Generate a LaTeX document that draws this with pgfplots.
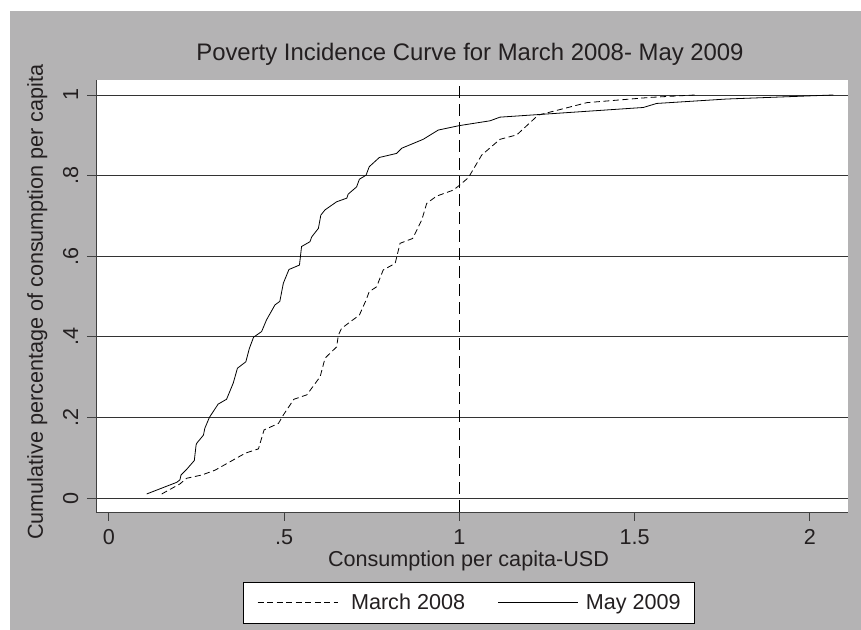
\documentclass[border=0pt]{standalone}
\usepackage{fontspec}
\setmainfont{Liberation Sans}
\usepackage{pgfplots}
\pgfplotsset{compat=1.18}
\definecolor{bggray}{RGB}{180,179,180}
\definecolor{txt}{RGB}{35,31,32}
\begin{document}
\begin{tikzpicture}
\useasboundingbox (0,0) rectangle (861bp,630bp);
\fill[white] (0,0) rectangle (861bp,630bp);
\fill[bggray] (10bp,0) rectangle (861bp,619bp);
\begin{axis}[
  at={(96bp,118bp)}, anchor=south west,
  scale only axis, width=752bp, height=432bp,
  xmin=-0.0365, xmax=2.109, ymin=-0.0347, ymax=1.0372,
  axis background/.style={fill=white},
  axis x line*=bottom, axis y line*=left,
  axis line style={-, black!75, line width=0.8bp},
  tick align=outside,
  major tick length=9bp,
  tick style={black!75, line width=0.8bp},
  xtick={0,0.5,1,1.5,2}, xticklabels={0,.5,1,1.5,2},
  ytick={0,0.2,0.4,0.6,0.8,1}, yticklabels={0,.2,.4,.6,.8,1},
  ymajorgrids, grid style={black!80, line width=0.8bp},
  font=\fontsize{21.6bp}{26bp}\selectfont,
  /pgf/number format/assume math mode=true,
  every tick label/.append style={text=txt, inner sep=0pt},
  xticklabel style={anchor=base},
  xticklabel shift=24bp,
  yticklabel style={rotate=90, anchor=base},
  yticklabel shift=9bp,
  title={Poverty Incidence Curve for March 2008- May 2009},
  title style={at={(axis description cs:0.4973,1.0324)}, anchor=base, text=txt, inner sep=0pt, font=\fontsize{23.9bp}{28bp}\selectfont},
  xlabel={Consumption per capita-USD},
  xlabel style={at={(axis description cs:0.4953,-0.125)}, anchor=base, text=txt, inner sep=0pt},
  ylabel={Cumulative percentage of consumption per capita},
  ylabel style={at={(axis description cs:-0.0705,0.486)}, anchor=base, text=txt, inner sep=0pt},
  legend columns=2,
  legend image code/.code={\draw[#1] (0bp,0bp) -- (80bp,0bp);},
  legend style={at={(axis description cs:0.496,-0.2095)}, anchor=center,
    draw=black, fill=white, line width=0.8bp, text=txt,
    inner xsep=14bp, inner ysep=12bp,
    nodes={inner sep=0pt},
    /tikz/column 1/.append style={column sep=13bp},
    /tikz/column 2/.append style={column sep=33bp},
    /tikz/column 3/.append style={column sep=7bp}},
]
\addplot[black, line width=0.8bp, dash pattern=on 6bp off 3.5bp] coordinates {
(0.151,0.010) (0.203,0.035) (0.222,0.049) (0.265,0.057) (0.303,0.069)
(0.346,0.090) (0.389,0.111) (0.427,0.122) (0.443,0.169) (0.484,0.185)
(0.498,0.206) (0.528,0.245) (0.565,0.256) (0.603,0.301) (0.617,0.347)
(0.650,0.375) (0.655,0.404) (0.664,0.421) (0.715,0.454) (0.734,0.491)
(0.743,0.512) (0.764,0.524) (0.783,0.566) (0.817,0.582) (0.831,0.632)
(0.867,0.644) (0.893,0.690) (0.907,0.731) (0.935,0.749) (0.983,0.764)
(1.002,0.777) (1.026,0.795) (1.064,0.851) (1.116,0.890) (1.164,0.901)
(1.225,0.950) (1.364,0.981) (1.544,0.994) (1.672,1.000)
};
\addlegendentry{March 2008}
\addplot[black, line width=0.8bp] coordinates {
(0.108,0.010) (0.194,0.039) (0.203,0.045) (0.206,0.057) (0.222,0.071)
(0.244,0.093) (0.249,0.131) (0.251,0.136) (0.270,0.156) (0.274,0.173)
(0.287,0.200) (0.312,0.233) (0.336,0.245) (0.355,0.285) (0.367,0.322)
(0.391,0.338) (0.401,0.371) (0.413,0.399) (0.436,0.413) (0.450,0.442)
(0.474,0.479) (0.488,0.488) (0.498,0.533) (0.514,0.567) (0.544,0.578)
(0.550,0.624) (0.574,0.636) (0.579,0.648) (0.598,0.669) (0.605,0.702)
(0.617,0.715) (0.650,0.735) (0.679,0.744) (0.683,0.754) (0.707,0.772)
(0.715,0.791) (0.734,0.801) (0.743,0.822) (0.772,0.845) (0.821,0.855)
(0.836,0.868) (0.897,0.890) (0.940,0.913) (1.000,0.924) (1.088,0.936)
(1.116,0.945) (1.525,0.969) (1.563,0.979) (1.763,0.990) (2.067,1.000)
};
\addlegendentry{May 2009}
\addplot[black, line width=0.8bp, dash pattern=on 12bp off 6bp, forget plot] coordinates {(1,-0.0347) (1,1.0372)};
\end{axis}
\end{tikzpicture}
\end{document}
